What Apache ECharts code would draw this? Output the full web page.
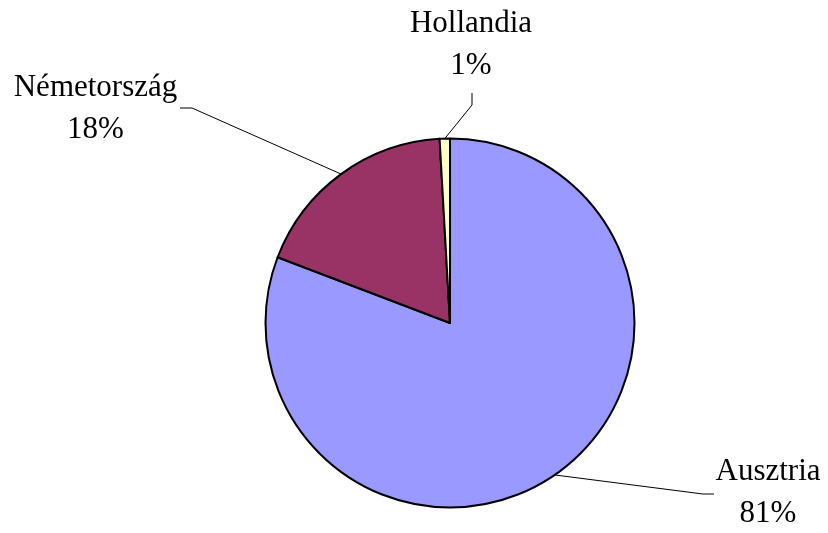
<!DOCTYPE html>
<html>
<head>
<meta charset="utf-8">
<script src="https://cdn.jsdelivr.net/npm/echarts@6/dist/echarts.min.js"></script>
<style>html,body{margin:0;padding:0;background:#fff}#c{width:828px;height:533px}</style>
</head>
<body>
<div id="c"></div>
<script>
const categories = ['Ausztria', 'Németország', 'Hollandia'];
const values = [80.8, 18.3, 0.9];
const colors = ['#9999FF', '#993366', '#FFFFCC'];

// label placement (label centre) and leader-line shape per category
const labelPlace = {
  'Ausztria':    { x: 768, y: 493, line: [[703, 494], [714, 494]] },
  'Németország': { x: 95.5, y: 108.5, line: [[192, 108], [180, 108]] },
  'Hollandia':   { x: 471, y: 45, line: [[472, 105], [472, 93]] }
};

const chart = echarts.init(document.getElementById('c'), null, { renderer: 'canvas' });
const cx = 450, cy = 323, R = 184.5;
const total = values.reduce((a, b) => a + b, 0);

chart.setOption({
  backgroundColor: '#fff',
  animation: false,
  series: [{
    type: 'pie',
    center: [cx, cy],
    radius: R,
    startAngle: 90,
    clockwise: true,
    avoidLabelOverlap: false,
    data: categories.map((c, i) => ({ name: c, value: values[i], itemStyle: { color: colors[i] } })),
    itemStyle: { borderColor: '#000', borderWidth: 2 },
    label: {
      show: true,
      position: 'outside',
      formatter: p => p.name + '\n' + Math.round(p.percent) + '%',
      fontFamily: 'Liberation Serif',
      fontSize: 31,
      lineHeight: 42,
      color: '#000',
      align: 'center'
    },
    labelLine: { show: true, lineStyle: { color: '#000', width: 1 } },
    labelLayout: function (params) {
      const idx = params.dataIndex;
      const name = categories[idx];
      const pl = labelPlace[name];
      let before = 0;
      for (let i = 0; i < idx; i++) before += values[i];
      const midFrac = (before + values[idx] / 2) / total;
      const ang = midFrac * Math.PI * 2;
      const ex = cx + R * Math.sin(ang);
      const ey = cy - R * Math.cos(ang);
      return {
        x: pl.x,
        y: pl.y,
        align: 'center',
        verticalAlign: 'middle',
        labelLinePoints: [[ex, ey]].concat(pl.line)
      };
    },
    emphasis: { disabled: true }
  }]
});
</script>
</body>
</html>
